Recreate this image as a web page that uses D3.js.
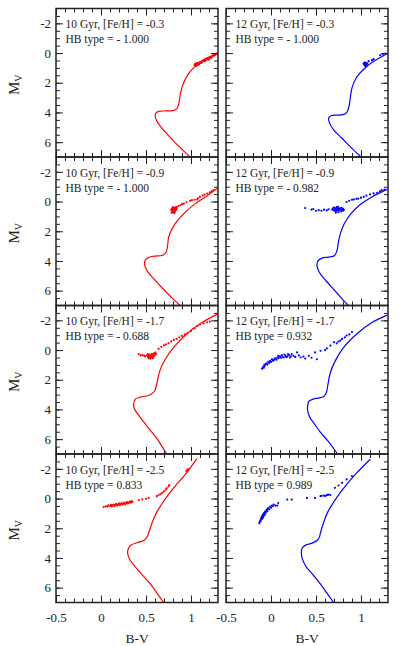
<!DOCTYPE html>
<html lang="en">
<head>
<meta charset="UTF-8">
<title>HB morphology vs isochrones</title>
<script src="https://cdn.jsdelivr.net/npm/d3@7"></script>
<style>
  body { margin: 0; background: #fff; }
  svg { display: block; }
  text { font-family: "Liberation Serif", "Times New Roman", serif; fill: #222; }
</style>
</head>
<body>
<svg id="chart" width="402" height="646"></svg>
<script>
// panel labels
var ages = ["10", "12"];
var fehs = ["-0.3", "-0.9", "-1.7", "-2.5"];
var hbTypes = [["- 1.000", "- 1.000"], ["- 1.000", "- 0.982"], ["- 0.688", "0.932"], ["0.833", "0.989"]];
var colors = ["red", "blue"];

// tick labels
var xMajor = [-0.5, 0, 0.5, 1];
var yMajor = [-2, 0, 2, 4, 6];

// isochrones, [B-V, M_V]
var iso10_03 = [[0.99,7.0],[0.88,6.37],[0.77,5.69],[0.677,5.06],[0.622,4.6],[0.603,4.27],[0.611,4.04],[0.64,3.93],[0.714,3.9],[0.8,3.88],[0.844,3.74],[0.866,3.36],[0.881,2.79],[0.904,2.23],[0.955,1.55],[1.03,0.98],[1.122,0.52],[1.214,0.23],[1.296,0.0]];
var iso12_03 = [[1.0,7.0],[0.9,6.42],[0.789,5.74],[0.696,5.17],[0.651,4.72],[0.64,4.38],[0.667,4.22],[0.733,4.18],[0.8,4.15],[0.844,3.97],[0.867,3.59],[0.881,3.02],[0.9,2.34],[0.948,1.66],[1.029,1.09],[1.122,0.64],[1.214,0.3],[1.296,0.03]];
var iso10_09 = [[0.88,7.0],[0.789,6.49],[0.696,5.92],[0.592,5.24],[0.518,4.72],[0.485,4.27],[0.492,3.95],[0.529,3.77],[0.603,3.67],[0.678,3.63],[0.722,3.43],[0.74,2.97],[0.751,2.41],[0.789,1.84],[0.851,1.27],[0.937,0.71],[1.048,0.14],[1.159,-0.31],[1.289,-0.88]];
var iso12_09 = [[0.86,7.0],[0.807,6.67],[0.714,6.03],[0.614,5.35],[0.54,4.79],[0.511,4.33],[0.522,3.99],[0.567,3.81],[0.64,3.74],[0.703,3.65],[0.733,3.31],[0.748,2.75],[0.77,2.18],[0.814,1.5],[0.889,0.82],[0.992,0.2],[1.122,-0.31],[1.289,-0.82]];
var iso10_17 = [[0.73,7.0],[0.707,6.78],[0.62,5.95],[0.548,5.41],[0.47,4.8],[0.418,4.38],[0.37,3.95],[0.362,3.7],[0.381,3.31],[0.437,3.17],[0.529,3.06],[0.592,2.79],[0.622,2.22],[0.652,1.42],[0.714,0.62],[0.807,-0.18],[0.955,-1.1],[1.122,-1.85],[1.289,-2.4]];
var iso12_17 = [[0.74,7.0],[0.714,6.78],[0.63,6.1],[0.548,5.53],[0.48,4.95],[0.429,4.5],[0.405,4.0],[0.41,3.7],[0.418,3.47],[0.474,3.29],[0.529,3.24],[0.585,3.13],[0.614,2.9],[0.629,2.45],[0.659,1.53],[0.714,0.73],[0.807,-0.18],[0.955,-1.1],[1.122,-1.85],[1.289,-2.35]];
var iso10_25 = [[0.696,7.0],[0.62,6.35],[0.548,5.74],[0.46,5.15],[0.381,4.6],[0.32,4.1],[0.296,3.7],[0.3,3.45],[0.33,3.15],[0.4,2.98],[0.48,2.8],[0.51,2.6],[0.53,2.3],[0.566,1.66],[0.614,0.98],[0.696,0.18],[0.807,-0.72],[0.937,-1.63],[1.066,-2.69]];
var iso12_25 = [[0.696,7.0],[0.62,6.35],[0.548,5.74],[0.47,5.15],[0.392,4.6],[0.35,4.1],[0.337,3.65],[0.345,3.35],[0.39,3.12],[0.45,3.02],[0.518,2.79],[0.54,2.55],[0.548,2.34],[0.585,1.61],[0.629,0.93],[0.714,0.07],[0.826,-0.84],[0.955,-1.74],[1.103,-2.65]];

// horizontal branch stars, [B-V, M_V]
var hb10_03 = [[1.04,0.8],[1.05,0.71],[1.06,0.86],[1.07,0.66],[1.045,0.76],[1.055,0.83],[1.065,0.74],[1.075,0.79],[1.085,0.7],[1.09,0.75],[1.1,0.59],[1.11,0.67],[1.12,0.64],[1.13,0.55],[1.14,0.48],[1.15,0.56],[1.16,0.52],[1.17,0.42],[1.18,0.37],[1.19,0.44],[1.2,0.41],[1.21,0.25],[1.22,0.33],[1.23,0.3],[1.24,0.2],[1.25,0.14],[1.26,0.18],[1.27,0.12],[1.28,0.03],[1.29,0.06]];
var hb12_03 = [[1.03,0.7],[1.035,0.78],[1.04,0.66],[1.045,0.84],[1.05,0.72],[1.055,0.8],[1.06,0.68],[1.065,0.76],[1.04,0.74],[1.05,0.86],[1.07,0.7],[1.045,0.64],[1.085,0.55],[1.122,0.48],[1.14,0.41],[1.214,0.14],[1.244,0.07],[1.27,0.03]];
var hb10_09 = [[0.78,0.55],[0.79,0.45],[0.79,0.65],[0.8,0.38],[0.8,0.55],[0.8,0.72],[0.81,0.48],[0.81,0.62],[0.82,0.4],[0.82,0.55],[0.82,0.7],[0.83,0.47],[0.83,0.6],[0.84,0.42],[0.84,0.52],[0.785,0.76],[0.815,0.78],[0.835,0.36],[0.86,0.3],[0.88,0.25],[0.9,0.18],[0.92,0.14],[0.95,0.05],[0.99,-0.05],[1.01,-0.09],[1.04,-0.12],[1.07,-0.14],[1.08,-0.22],[1.1,-0.31],[1.13,-0.4],[1.15,-0.47],[1.18,-0.54],[1.21,-0.62],[1.23,-0.7],[1.25,-0.77]];
var hb12_09 = [[0.68,0.55],[0.69,0.45],[0.7,0.6],[0.7,0.4],[0.71,0.52],[0.72,0.45],[0.72,0.65],[0.73,0.55],[0.73,0.38],[0.74,0.48],[0.74,0.62],[0.75,0.55],[0.75,0.72],[0.76,0.45],[0.76,0.6],[0.77,0.52],[0.78,0.66],[0.78,0.42],[0.79,0.55],[0.8,0.48],[0.8,0.62],[0.81,0.56],[0.72,0.75],[0.745,0.35],[0.38,0.44],[0.45,0.55],[0.47,0.5],[0.5,0.62],[0.53,0.58],[0.56,0.62],[0.59,0.55],[0.62,0.6],[0.64,0.52],[0.84,0.03],[0.87,-0.05],[0.9,-0.12],[0.92,-0.14],[0.95,-0.18],[0.97,-0.2],[1.0,-0.26],[1.03,-0.31],[1.06,-0.4],[1.1,-0.48],[1.14,-0.55],[1.18,-0.59],[1.21,-0.68],[1.23,-0.77],[1.26,-0.8]];
var hb10_17 = [[0.51,0.35],[0.52,0.28],[0.52,0.45],[0.53,0.38],[0.535,0.52],[0.54,0.3],[0.545,0.42],[0.55,0.5],[0.555,0.35],[0.56,0.45],[0.565,0.25],[0.57,0.4],[0.575,0.55],[0.58,0.32],[0.585,0.45],[0.59,0.22],[0.6,0.35],[0.605,0.18],[0.61,0.28],[0.55,0.58],[0.53,0.56],[0.42,0.27],[0.44,0.36],[0.46,0.34],[0.48,0.38],[0.49,0.42],[0.64,-0.08],[0.67,-0.22],[0.7,-0.32],[0.72,-0.38],[0.75,-0.47],[0.78,-0.58],[0.81,-0.68],[0.84,-0.75],[0.87,-0.86],[0.9,-0.95],[0.93,-1.05],[0.96,-1.14],[1.0,-1.28],[1.04,-1.45],[1.07,-1.62],[1.1,-1.72],[1.14,-1.8],[1.18,-1.87],[1.21,-1.92]];
var hb12_17 = [[-0.1,1.26],[-0.09,1.14],[-0.08,1.2],[-0.075,1.0],[-0.07,1.08],[-0.06,0.95],[-0.05,0.89],[-0.04,0.98],[-0.03,0.8],[-0.02,0.88],[-0.01,0.73],[0.0,0.8],[0.01,0.62],[0.02,0.72],[0.03,0.68],[0.04,0.58],[0.05,0.57],[0.06,0.65],[0.07,0.5],[0.08,0.39],[0.085,0.55],[0.1,0.43],[0.11,0.52],[0.12,0.34],[0.13,0.45],[0.14,0.5],[0.15,0.3],[0.16,0.39],[0.17,0.48],[0.18,0.43],[0.19,0.28],[0.2,0.34],[0.21,0.5],[0.22,0.42],[0.23,0.27],[0.25,0.39],[0.27,0.46],[0.29,0.16],[0.31,0.36],[0.33,0.5],[0.36,0.44],[0.38,0.57],[0.42,0.39],[0.45,0.52],[0.49,0.16],[0.51,0.62],[0.55,0.05],[0.6,0.0],[0.62,-0.11],[0.66,-0.3],[0.7,-0.53],[0.73,-0.45],[0.75,-0.57],[0.77,-0.64],[0.79,-0.75],[0.82,-0.85],[0.84,-0.98],[0.87,-1.05],[0.9,-1.21]];
var hb10_25 = [[0.03,0.57],[0.05,0.52],[0.07,0.55],[0.08,0.46],[0.1,0.5],[0.11,0.43],[0.12,0.53],[0.13,0.45],[0.14,0.4],[0.15,0.5],[0.16,0.42],[0.17,0.36],[0.18,0.46],[0.19,0.4],[0.2,0.33],[0.21,0.44],[0.22,0.37],[0.23,0.3],[0.24,0.41],[0.25,0.34],[0.26,0.27],[0.27,0.38],[0.28,0.3],[0.29,0.24],[0.3,0.33],[0.31,0.27],[0.32,0.2],[0.33,0.28],[0.34,0.18],[0.35,0.22],[0.42,0.1],[0.46,0.05],[0.5,0.02],[0.53,-0.04],[0.62,-0.16],[0.64,-0.24],[0.66,-0.3],[0.68,-0.38],[0.7,-0.48],[0.72,-0.6],[0.73,-0.7],[0.75,-0.82],[0.76,-0.9],[0.95,-1.86],[0.96,-1.93],[0.97,-1.98]];
var hb12_25 = [[-0.13,1.66],[-0.125,1.58],[-0.12,1.48],[-0.115,1.52],[-0.11,1.32],[-0.11,1.4],[-0.1,1.2],[-0.1,1.28],[-0.095,1.35],[-0.09,1.09],[-0.09,1.16],[-0.085,1.24],[-0.08,1.02],[-0.075,0.98],[-0.07,1.1],[-0.065,0.9],[-0.06,0.86],[-0.06,0.96],[-0.05,0.8],[-0.045,0.75],[-0.04,0.86],[-0.035,0.7],[-0.03,0.64],[-0.02,0.72],[-0.01,0.55],[0.0,0.62],[0.01,0.47],[0.02,0.52],[0.03,0.41],[0.05,0.47],[0.07,0.47],[0.08,0.3],[0.18,0.07],[0.23,0.07],[0.4,-0.04],[0.49,-0.04],[0.55,-0.16],[0.56,-0.18],[0.585,-0.2],[0.6,-0.18],[0.62,-0.22],[0.63,-0.25],[0.64,-0.27],[0.66,-0.24],[0.71,-0.72],[0.75,-0.88],[0.79,-1.06],[0.84,-1.29],[0.9,-1.52]];

var isos = [[iso10_03, iso12_03], [iso10_09, iso12_09], [iso10_17, iso12_17], [iso10_25, iso12_25]];
var hbs = [[hb10_03, hb12_03], [hb10_09, hb12_09], [hb10_17, hb12_17], [hb10_25, hb12_25]];

var svg = d3.select("#chart");
var colX = [56, 226], pw = 162, top0 = 8.5, ph = 148.5;
var serif = '"Liberation Serif", "Times New Roman", serif';

function ticks(g, axis) {
    g.call(axis).attr("font-family", serif).attr("font-size", 13).attr("color", "#222");
    g.select(".domain").remove();
}

fehs.forEach(function(feh, i) {
    ages.forEach(function(age, j) {
        var left = colX[j], top = top0 + i * ph;
        var x = d3.scaleLinear().domain([-0.5, 1.3]).range([left, left + pw]);
        var y = d3.scaleLinear().domain([-3, 7]).range([top, top + ph]);

        var clipId = "clip" + i + j;
        svg.append("clipPath").attr("id", clipId)
            .append("rect").attr("x", left).attr("y", top).attr("width", pw).attr("height", ph);

        var plot = svg.append("g").attr("clip-path", "url(#" + clipId + ")");

        var line = d3.line()
            .x(function(d) { return x(d[0]); })
            .y(function(d) { return y(d[1]); })
            .curve(d3.curveCatmullRom);

        plot.append("path")
            .datum(isos[i][j])
            .attr("d", line)
            .attr("fill", "none")
            .attr("stroke", colors[j])
            .attr("stroke-width", 1.2);

        plot.selectAll("circle")
            .data(hbs[i][j])
            .enter().append("circle")
            .attr("cx", function(d) { return x(d[0]); })
            .attr("cy", function(d) { return y(d[1]); })
            .attr("r", 1.1)
            .attr("fill", colors[j]);

        // minor + major ticks, all inward, on four sides
        var xMinor = d3.range(-0.4, 1.3, 0.1), yMinor = d3.range(-2.5, 7, 0.5);
        var bottom = i === 3;
        ticks(svg.append("g").attr("transform", "translate(0," + (top + ph) + ")"),
            d3.axisBottom(x).tickValues(xMinor).tickSize(-4).tickFormat(""));
        ticks(svg.append("g").attr("transform", "translate(0," + (top + ph) + ")"),
            d3.axisBottom(x).tickValues(xMajor).tickSize(-7).tickPadding(10)
                .tickFormat(bottom ? function(d) { return String(d); } : ""));
        ticks(svg.append("g").attr("transform", "translate(0," + top + ")"),
            d3.axisTop(x).tickValues(xMinor).tickSize(-4).tickFormat(""));
        ticks(svg.append("g").attr("transform", "translate(0," + top + ")"),
            d3.axisTop(x).tickValues(xMajor).tickSize(-7).tickFormat(""));
        ticks(svg.append("g").attr("transform", "translate(" + left + ",0)"),
            d3.axisLeft(y).tickValues(yMinor).tickSize(-4).tickFormat(""));
        ticks(svg.append("g").attr("transform", "translate(" + left + ",0)"),
            d3.axisLeft(y).tickValues(yMajor).tickSize(-7).tickPadding(5)
                .tickFormat(j === 0 ? function(d) { return String(d); } : ""));
        ticks(svg.append("g").attr("transform", "translate(" + (left + pw) + ",0)"),
            d3.axisRight(y).tickValues(yMinor).tickSize(-4).tickFormat(""));
        ticks(svg.append("g").attr("transform", "translate(" + (left + pw) + ",0)"),
            d3.axisRight(y).tickValues(yMajor).tickSize(-7).tickFormat(""));

        svg.append("rect")
            .attr("x", left).attr("y", top).attr("width", pw).attr("height", ph)
            .attr("fill", "none").attr("stroke", "#222").attr("stroke-width", 1.5);

        // annotation
        var note = svg.append("text").attr("font-size", 11.5);
        note.append("tspan").attr("x", left + 9.5).attr("y", top + 19.5)
            .text(age + " Gyr, [Fe/H] = " + feh);
        note.append("tspan").attr("x", left + 9.5).attr("y", top + 34.5)
            .text("HB type = " + hbTypes[i][j]);

        if (bottom) {
            svg.append("text")
                .attr("x", left + pw / 2).attr("y", 643)
                .attr("text-anchor", "middle").attr("font-size", 13.5)
                .text("B-V");
        }
    });

    var mv = svg.append("text")
        .attr("transform", "translate(19," + (top0 + i * ph + ph / 2 + 2) + ") rotate(-90)")
        .attr("text-anchor", "middle").attr("font-size", 15);
    mv.append("tspan").text("M");
    mv.append("tspan").attr("font-size", 10).attr("dy", 3).text("V");
});
</script>
</body>
</html>
